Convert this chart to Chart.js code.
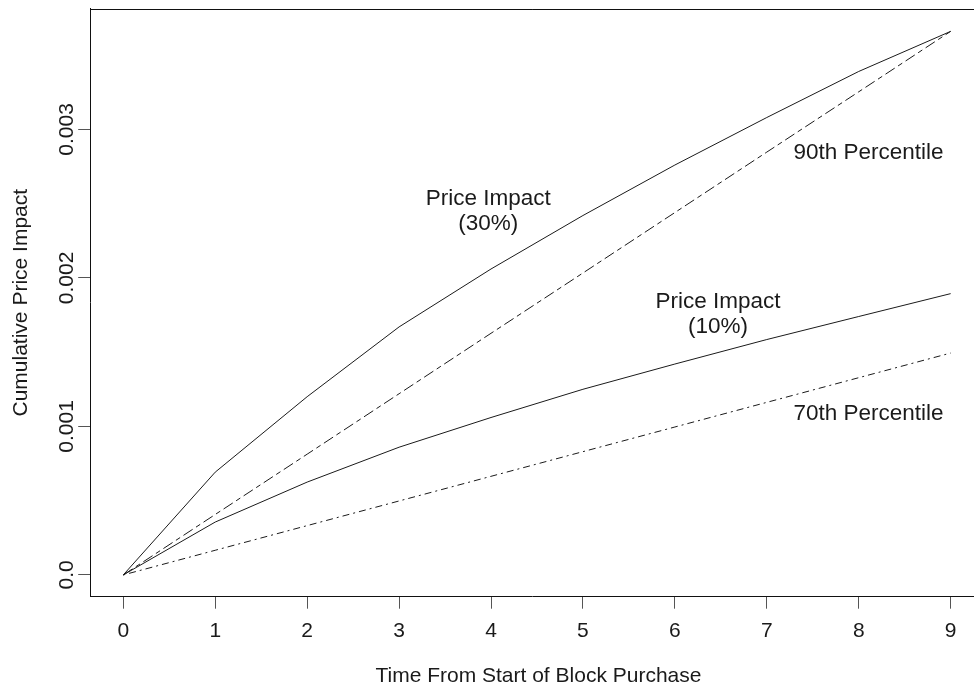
<!DOCTYPE html>
<html>
<head>
<meta charset="utf-8">
<title>Cumulative Price Impact</title>
<script src="https://cdn.jsdelivr.net/npm/chart.js@4/dist/chart.umd.min.js"></script>
<style>
  html, body { margin: 0; padding: 0; background: #ffffff; overflow: hidden; }
  canvas { display: block; }
</style>
</head>
<body>
<canvas id="chart" width="974" height="689"></canvas>
<script>
// Time steps after the start of the block purchase
const timeSteps = [0, 1, 2, 3, 4, 5, 6, 7, 8, 9];

// Cumulative price impact series
const impact30 = [0, 0.000692, 0.00120, 0.00167, 0.00206, 0.00242, 0.00276, 0.00308, 0.00339, 0.00366];
const pct90    = [0, 0.000407, 0.000813, 0.00122, 0.001627, 0.002033, 0.00244, 0.002847, 0.003253, 0.00366];
const impact10 = [0, 0.000356, 0.000625, 0.00086, 0.00106, 0.00125, 0.00142, 0.001585, 0.00174, 0.001894];
const pct70    = [0, 0.000166, 0.000332, 0.000498, 0.000664, 0.00083, 0.000996, 0.001162, 0.001328, 0.001494];

// Axis ticks and their labels
const xTickValues = [0, 1, 2, 3, 4, 5, 6, 7, 8, 9];
const yTickValues = [0, 0.001, 0.002, 0.003];
const yTickLabels = ['0.0', '0.001', '0.002', '0.003'];

const xTitle = 'Time From Start of Block Purchase';
const yTitle = 'Cumulative Price Impact';

// Curve labels placed in data coordinates
const curveNotes = [
  { lines: ['Price Impact', '(30%)'], x: 3.97, y: 0.00249, align: 'center' },
  { lines: ['Price Impact', '(10%)'], x: 6.47, y: 0.00180, align: 'center' },
  { lines: ['90th Percentile'], x: 7.29, y: 0.00280, align: 'left' },
  { lines: ['70th Percentile'], x: 7.29, y: 0.00104, align: 'left' }
];

const FONT = '"Liberation Sans", Arial, Helvetica, sans-serif';
const INK = '#1a1a1a';

const toPoints = (ys) => timeSteps.map((t, i) => ({ x: t, y: ys[i] }));

const lineStyle = (dash) => ({
  borderColor: INK,
  borderWidth: 1,
  borderDash: dash,
  pointRadius: 0,
  tension: 0,
  fill: false
});

const textPlugin = {
  id: 'plotText',
  afterDraw(chart) {
    const { ctx, chartArea, scales } = chart;
    const xs = scales.x, ys = scales.y;
    ctx.save();

    // top edge of the plot box
    ctx.strokeStyle = '#111';
    ctx.lineWidth = 1;
    ctx.beginPath();
    const top = Math.round(chartArea.top) + 0.5;
    ctx.moveTo(chartArea.left, top);
    ctx.lineTo(chartArea.right, top);
    ctx.stroke();

    ctx.fillStyle = INK;

    // x tick labels
    ctx.font = '21px ' + FONT;
    ctx.textAlign = 'center';
    ctx.textBaseline = 'alphabetic';
    xTickValues.forEach(v => {
      ctx.fillText(String(v), xs.getPixelForValue(v), 637);
    });

    // y tick labels, rotated
    yTickValues.forEach((v, i) => {
      ctx.save();
      ctx.translate(73, ys.getPixelForValue(v));
      ctx.rotate(-Math.PI / 2);
      ctx.fillText(yTickLabels[i], 0, 0);
      ctx.restore();
    });

    // axis titles
    ctx.fillText(xTitle, (chartArea.left + 950.7) / 2 + 18, 682);
    ctx.save();
    ctx.translate(27, (chartArea.top + chartArea.bottom) / 2);
    ctx.rotate(-Math.PI / 2);
    ctx.fillText(yTitle, 0, 0);
    ctx.restore();

    // curve labels
    ctx.font = '22.5px ' + FONT;
    curveNotes.forEach(n => {
      ctx.textAlign = n.align;
      const px = xs.getPixelForValue(n.x);
      const py = ys.getPixelForValue(n.y);
      n.lines.forEach((s, k) => ctx.fillText(s, px, py + k * 25));
    });

    ctx.restore();
  }
};

new Chart(document.getElementById('chart'), {
  type: 'line',
  data: {
    datasets: [
      Object.assign({ label: 'Price Impact (30%)', data: toPoints(impact30) }, lineStyle([])),
      Object.assign({ label: '90th Percentile', data: toPoints(pct90) }, lineStyle([11, 4, 5, 4])),
      Object.assign({ label: 'Price Impact (10%)', data: toPoints(impact10) }, lineStyle([])),
      Object.assign({ label: '70th Percentile', data: toPoints(pct70) }, lineStyle([2, 4, 7, 4]))
    ]
  },
  options: {
    responsive: false,
    animation: false,
    devicePixelRatio: 1,
    layout: { padding: { top: 8.7, right: 0, bottom: 0, left: 0 } },
    plugins: { legend: { display: false }, tooltip: { enabled: false } },
    scales: {
      x: {
        type: 'linear',
        min: -0.36,
        max: 9.254,
        afterBuildTicks: s => { s.ticks = xTickValues.map(v => ({ value: v })); },
        afterFit: s => { s.height = 92.3; },
        ticks: { display: false },
        grid: { drawOnChartArea: false, drawTicks: true, tickLength: 12, color: '#555', lineWidth: 1 },
        border: { display: true, color: '#111', width: 1 }
      },
      y: {
        type: 'linear',
        min: -0.0001466,
        max: 0.0038126,
        afterBuildTicks: s => { s.ticks = yTickValues.map(v => ({ value: v })); },
        afterFit: s => { s.width = 90.2; },
        ticks: { display: false },
        grid: { drawOnChartArea: false, drawTicks: true, tickLength: 12, color: '#555', lineWidth: 1 },
        border: { display: true, color: '#111', width: 1 }
      }
    }
  },
  plugins: [textPlugin]
});
</script>
</body>
</html>
